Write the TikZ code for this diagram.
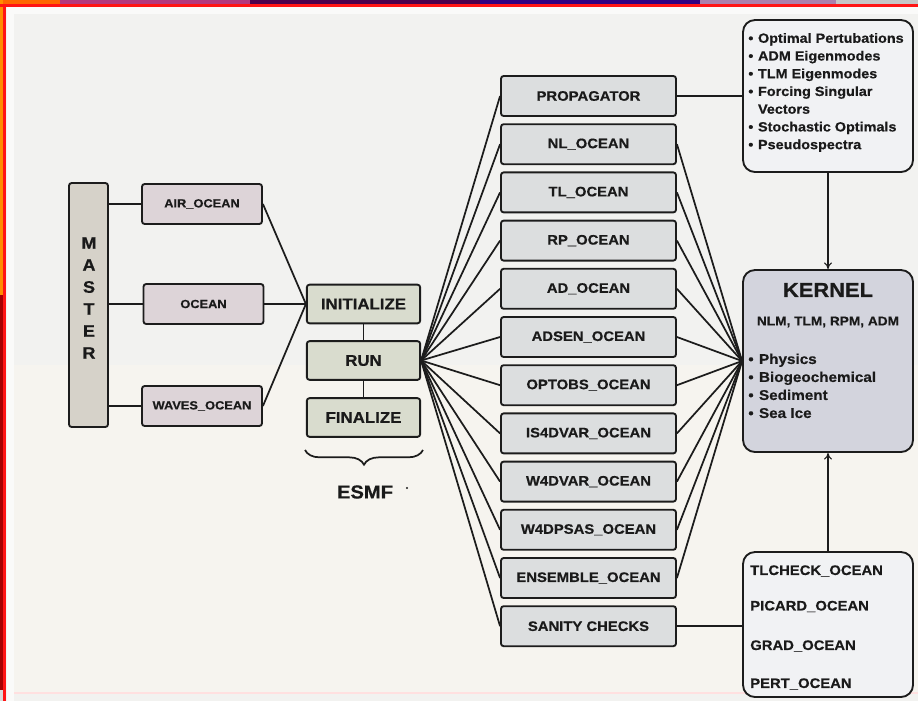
\documentclass[tikz,border=0pt]{standalone}
\usepackage{fontspec}
\setmainfont{Liberation Sans}[FakeStretch=1.08, BoldFeatures={FakeBold=0.5}]
\usetikzlibrary{decorations.pathreplacing,calc,arrows.meta}

\definecolor{pagebg}{HTML}{F2F2F0}
\definecolor{pagebglow}{HTML}{F6F4EF}
\definecolor{framered}{HTML}{FF1414}
\definecolor{linec}{HTML}{1C1C1C}
\definecolor{textc}{HTML}{1A1A1A}
\definecolor{masterfill}{HTML}{D6D2C9}
\definecolor{compfill}{HTML}{DDD4D8}
\definecolor{esmffill}{HTML}{D9DCCE}
\definecolor{midfill}{HTML}{DCDEDF}
\definecolor{kernelfill}{HTML}{D3D4DD}
\definecolor{listfill}{HTML}{F1F2F4}

\begin{document}
\begin{tikzpicture}[x=0.75pt,y=-0.75pt,
  box/.style={draw=linec, line width=1.4pt, rounded corners=2pt, inner sep=0pt,
    text=textc, font=\bfseries},
  masterbox/.style={box, fill=masterfill, minimum width=29.25pt, minimum height=183pt},
  compbox/.style={box, fill=compfill, minimum width=90pt, minimum height=30pt,
    font=\bfseries\fontsize{8.9}{10}\selectfont},
  esmfbox/.style={box, fill=esmffill, minimum width=85pt, minimum height=29pt,
    font=\bfseries\fontsize{11.7}{13}\selectfont},
  midbox/.style={box, fill=midfill, minimum width=131.25pt, minimum height=30pt,
    font=\bfseries\fontsize{10.3}{12}\selectfont},
  listbox/.style={box, fill=listfill, rounded corners=9pt, minimum width=127.5pt},
  kernelbox/.style={box, fill=kernelfill, rounded corners=9pt, minimum width=127.5pt,
    minimum height=136.5pt},
  listtext/.style={inner sep=0pt, text=textc, align=left,
    font=\bfseries\fontsize{10}{13.3}\selectfont},
  checktext/.style={inner sep=0pt, anchor=west, text=textc,
    font=\bfseries\fontsize{10.3}{12}\selectfont},
  wire/.style={draw=linec, line width=1.3pt},
  feed/.style={draw=linec, line width=0.8pt, -{To[length=5pt,width=6pt]}},
]
% page, frame and the strips of the underlying screen
\useasboundingbox (0,0) rectangle (918,701);
\fill[pagebg] (0,0) rectangle (918,701);
\fill[pagebglow] (14,365) rectangle (918,694);
\fill[white!60!pagebg] (7,7) rectangle (14,701);
\fill[white!60!pagebg] (7,7) rectangle (918,14);
\fill[red!12] (14,692) rectangle (918,694);
\fill[orange!80!red] (0,0) rectangle (60,4);
\fill[magenta!70!black] (60,0) rectangle (250,4);
\fill[violet!60!black] (250,0) rectangle (480,4);
\fill[blue!45!violet!70!black] (480,0) rectangle (700,4);
\fill[violet!50!white!70!gray] (700,0) rectangle (836,4);
\fill[gray!45] (836,0) rectangle (918,4);
\fill[orange!90!yellow] (0,0) rectangle (3,295);
\fill[red!65!black] (0,295) rectangle (3,690);
\fill[gray!30] (0,690) rectangle (3,701);
\fill[framered] (0,4) rectangle (918,7);
\fill[framered] (3,4) rectangle (6,701);

% MASTER and its components
\node[masterbox] (master) at (88.5,305) {};
\node[inner sep=0pt, text=textc, align=center,
  font=\bfseries\fontsize{12.5}{16.5}\selectfont] (masterlbl) at (89,298)
  {M\\A\\S\\T\\E\\R};
\node[compbox] (air) at (202,204) {AIR\_OCEAN};
\node[compbox] (ocean) at (203.5,304) {OCEAN};
\node[compbox] (waves) at (202,406) {WAVES\_OCEAN};

% ESMF phases
\node[esmfbox] (init) at (363.5,304) {INITIALIZE};
\node[esmfbox] (run) at (363.5,360.5) {RUN};
\node[esmfbox] (fin) at (363.5,417.5) {FINALIZE};
\coordinate (braceL) at (305,450);
\coordinate (braceR) at (423,450);
\draw[linec, line width=1.3pt, decorate,
  decoration={brace, mirror, amplitude=11pt}] (braceL) -- (braceR);
\node[inner sep=0pt, text=textc, font=\bfseries\fontsize{14}{16}\selectfont]
  (esmf) at (365,492) {ESMF};
\node[circle, fill=linec, inner sep=0pt, minimum size=1.6pt] (esmfdot) at (407,488) {};

% model drivers
\foreach \lbl [count=\i from 0] in {PROPAGATOR, NL\_OCEAN, TL\_OCEAN, RP\_OCEAN,
    AD\_OCEAN, ADSEN\_OCEAN, OPTOBS\_OCEAN, IS4DVAR\_OCEAN, W4DVAR\_OCEAN,
    W4DPSAS\_OCEAN, ENSEMBLE\_OCEAN, SANITY CHECKS}
  \node[midbox] (m\i) at (588.5,{96+48.2*\i}) {\lbl};

% propagator products
\node[listbox, minimum height=114pt] (props) at (828,96) {};
\node[listtext, anchor=north west] (propslist) at ([shift={(6,11)}]props.north west)
  {\begin{tabular}{@{}l@{\hspace{3.5pt}}l@{}}
   • & Optimal Pertubations\\
   • & ADM Eigenmodes\\
   • & TLM Eigenmodes\\
   • & Forcing Singular\\
     & Vectors\\
   • & Stochastic Optimals\\
   • & Pseudospectra
   \end{tabular}};

% kernel
\node[kernelbox] (kernel) at (828,361) {};
\node[inner sep=0pt, text=textc, font=\bfseries\fontsize{15.2}{17}\selectfont]
  (kerneltitle) at (828,290) {KERNEL};
\node[inner sep=0pt, text=textc, font=\bfseries\fontsize{9.5}{11}\selectfont]
  (kernelmodels) at (828,322) {NLM, TLM, RPM, ADM};
\node[listtext, anchor=north west, font=\bfseries\fontsize{10.6}{13.5}\selectfont]
  (kernellist) at ([shift={(6,82)}]kernel.north west)
  {\begin{tabular}{@{}l@{\hspace{4pt}}l@{}}
   • & Physics\\
   • & Biogeochemical\\
   • & Sediment\\
   • & Sea Ice
   \end{tabular}};

% sanity checks
\node[listbox, minimum height=108.75pt] (checks) at (828,624.5) {};
\node[checktext] (tlcheck) at (750,571) {TLCHECK\_OCEAN};
\node[checktext] (picard) at (750,606.5) {PICARD\_OCEAN};
\node[checktext] (grad) at (750,646) {GRAD\_OCEAN};
\node[checktext] (pert) at (750,684) {PERT\_OCEAN};

% connectors
\foreach \c in {air, ocean, waves} {
  \draw[wire] (master.east |- \c.west) -- (\c.west);
  \draw[wire] (\c.east) -- (init.west);
}
\draw[wire] (init.south) -- (run.north);
\draw[wire] (run.south) -- (fin.north);
\foreach \i in {0,...,11}
  \draw[wire] (run.east) -- (m\i.west);
\foreach \i in {1,...,10}
  \draw[wire] (m\i.east) -- (kernel.west);
\draw[wire] (m0.east) -- (m0.east -| props.west);
\draw[wire] (m11.east) -- (m11.east -| checks.west);
\draw[feed] (props.south) -- (kernel.north);
\draw[feed] (checks.north) -- (kernel.south);
\end{tikzpicture}
\end{document}
